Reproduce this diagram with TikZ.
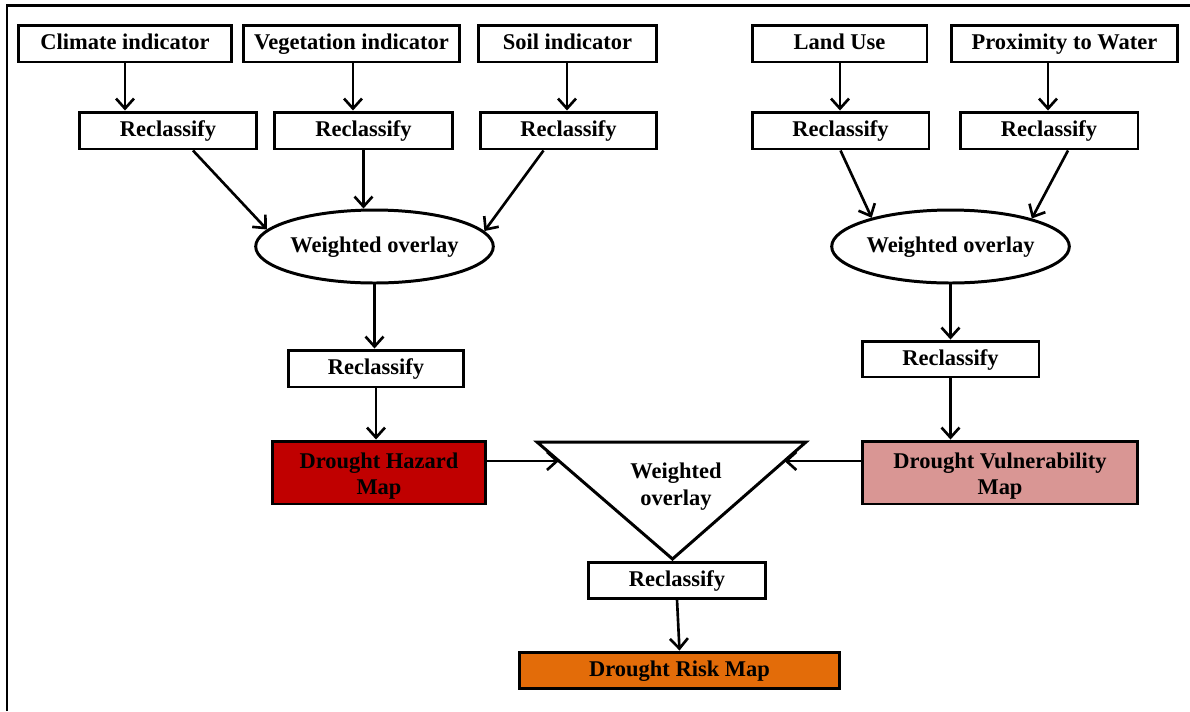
\documentclass[tikz,border=0pt]{standalone}
\usepackage{fontspec}
\setmainfont{Liberation Serif}
\usetikzlibrary{arrows.meta,shapes.geometric,calc}

\definecolor{hazardred}{HTML}{C00000}
\definecolor{vulnpink}{HTML}{D99694}
\definecolor{riskorange}{HTML}{E36C09}

\tikzset{
  lbl/.style={font=\bfseries\fontsize{12.8}{15}\selectfont, align=center},
  frame/.style={draw, line width=1.7pt, inner sep=1pt},
  stepbox/.style={lbl, frame, minimum height=0.74cm, text height=1.95ex, text depth=0.45ex},
  mapbox/.style={frame, minimum height=1.26cm},
  maptext/.style={lbl, font=\bfseries\fontsize{12.8}{15.2}\selectfont, yshift=-0.07cm},
  overlay/.style={lbl, draw, ellipse, line width=1.7pt, inner sep=0pt, text height=1.95ex, text depth=0.45ex},
  conn/.style={line width=1.5pt, -{Straight Barb[length=2mm,width=3.6mm,line width=1.5pt]}},
}

\begin{document}
\begin{tikzpicture}[x=0.02cm, y=-0.02cm]
  \useasboundingbox (0,0) rectangle (1190,711);
  % frame along the left and top edges
  \draw[line width=1.3pt] (7,711) -- (7,5.5) -- (1190,5.5);

  % input layers
  \node[stepbox, minimum width=4.28cm] (clim) at (125,43.5)   {Climate indicator};
  \node[stepbox, minimum width=4.34cm] (veg)  at (351.5,43.5) {Vegetation indicator};
  \node[stepbox, minimum width=3.58cm] (soil) at (567.5,43.5) {Soil indicator};
  \node[stepbox, minimum width=3.50cm] (land) at (839.5,43.5) {Land Use};
  \node[stepbox, minimum width=4.54cm] (prox) at (1064.5,43.5){Proximity to Water};

  % first reclassification
  \node[stepbox, minimum width=3.56cm] (r1) at (168,130.5)   {Reclassify};
  \node[stepbox, minimum width=3.58cm] (r2) at (363.5,130.5) {Reclassify};
  \node[stepbox, minimum width=3.54cm] (r3) at (568.5,130.5) {Reclassify};
  \node[stepbox, minimum width=3.54cm] (r4) at (840.5,130.5) {Reclassify};
  \node[stepbox, minimum width=3.56cm] (r5) at (1049,130.5)  {Reclassify};

  % weighted overlays
  \node[overlay, minimum width=4.62cm, minimum height=1.46cm] (e1) at (374.5,246.5) {Weighted overlay};
  \node[overlay, minimum width=4.70cm, minimum height=1.46cm] (e2) at (950.5,246.5) {Weighted overlay};

  % second reclassification
  \node[stepbox, minimum width=3.52cm] (rl) at (376,368.5) {Reclassify};
  \node[stepbox, minimum width=3.54cm, minimum height=0.72cm] (rr) at (950.5,359) {Reclassify};

  % hazard and vulnerability maps
  \node[mapbox, fill=hazardred, minimum width=4.28cm,
        label={[maptext]center:Drought Hazard\\Map}] (haz) at (379,472.5) {};
  \node[mapbox, fill=vulnpink, minimum width=5.52cm,
        label={[maptext]center:Drought Vulnerability\\Map}] (vul) at (1000,472.5) {};

  % final weighted overlay (inverted triangle)
  \coordinate (tl) at (537,442);
  \coordinate (tr) at (806,442);
  \coordinate (ap) at (672.5,559);
  \draw[line width=1.7pt, line join=miter] (tl) -- (tr) -- (ap) -- cycle;
  \node[lbl, font=\bfseries\fontsize{12.8}{15.5}\selectfont] (tri) at (676,486.5) {Weighted\\overlay};
  \coordinate (tinL) at ($(tl)!0.162!(ap)$);
  \coordinate (tinR) at ($(tr)!0.162!(ap)$);

  % final reclassification and risk map
  \node[stepbox, minimum width=3.56cm, minimum height=0.72cm] (rb) at (677,580) {Reclassify};
  \node[stepbox, fill=riskorange, minimum width=6.42cm, minimum height=0.72cm] (risk) at (679.5,670) {Drought Risk Map};

  % connectors
  \draw[conn] (clim.south -| 125,0) -- (r1.north -| 125,0);
  \draw[conn] (veg.south -| 353,0)  -- (r2.north -| 353,0);
  \draw[conn] (soil.south -| 567,0) -- (r3.north -| 567,0);
  \draw[conn] (land.south -| 840,0) -- (r4.north -| 840,0);
  \draw[conn] (prox.south -| 1048,0)-- (r5.north -| 1048,0);

  \draw[conn] ($(r1.south)+(25,0)$) -- (e1.171);
  \draw[conn] (r2.south) -- (r2.south |- e1.north);
  \draw[conn] ($(r3.south)+(-25,0)$) -- (e1.8);
  \draw[conn] (r4.south) -- (e2.160);
  \draw[conn] ($(r5.south)+(19,0)$) -- (e2.19);

  \draw[conn] (e1.south) -- (e1.south |- rl.north);
  \draw[conn] (e2.south) -- (e2.south |- rr.north);
  \draw[conn] (rl.south) -- (rl.south |- haz.north);
  \draw[conn] (rr.south) -- (rr.south |- vul.north);

  \draw[conn] (haz.east |- tinL) -- (tinL);
  \draw[conn] (vul.west |- tinR) -- (tinR);
  \draw[conn] (rb.south) -- (risk.north);
\end{tikzpicture}
\end{document}
